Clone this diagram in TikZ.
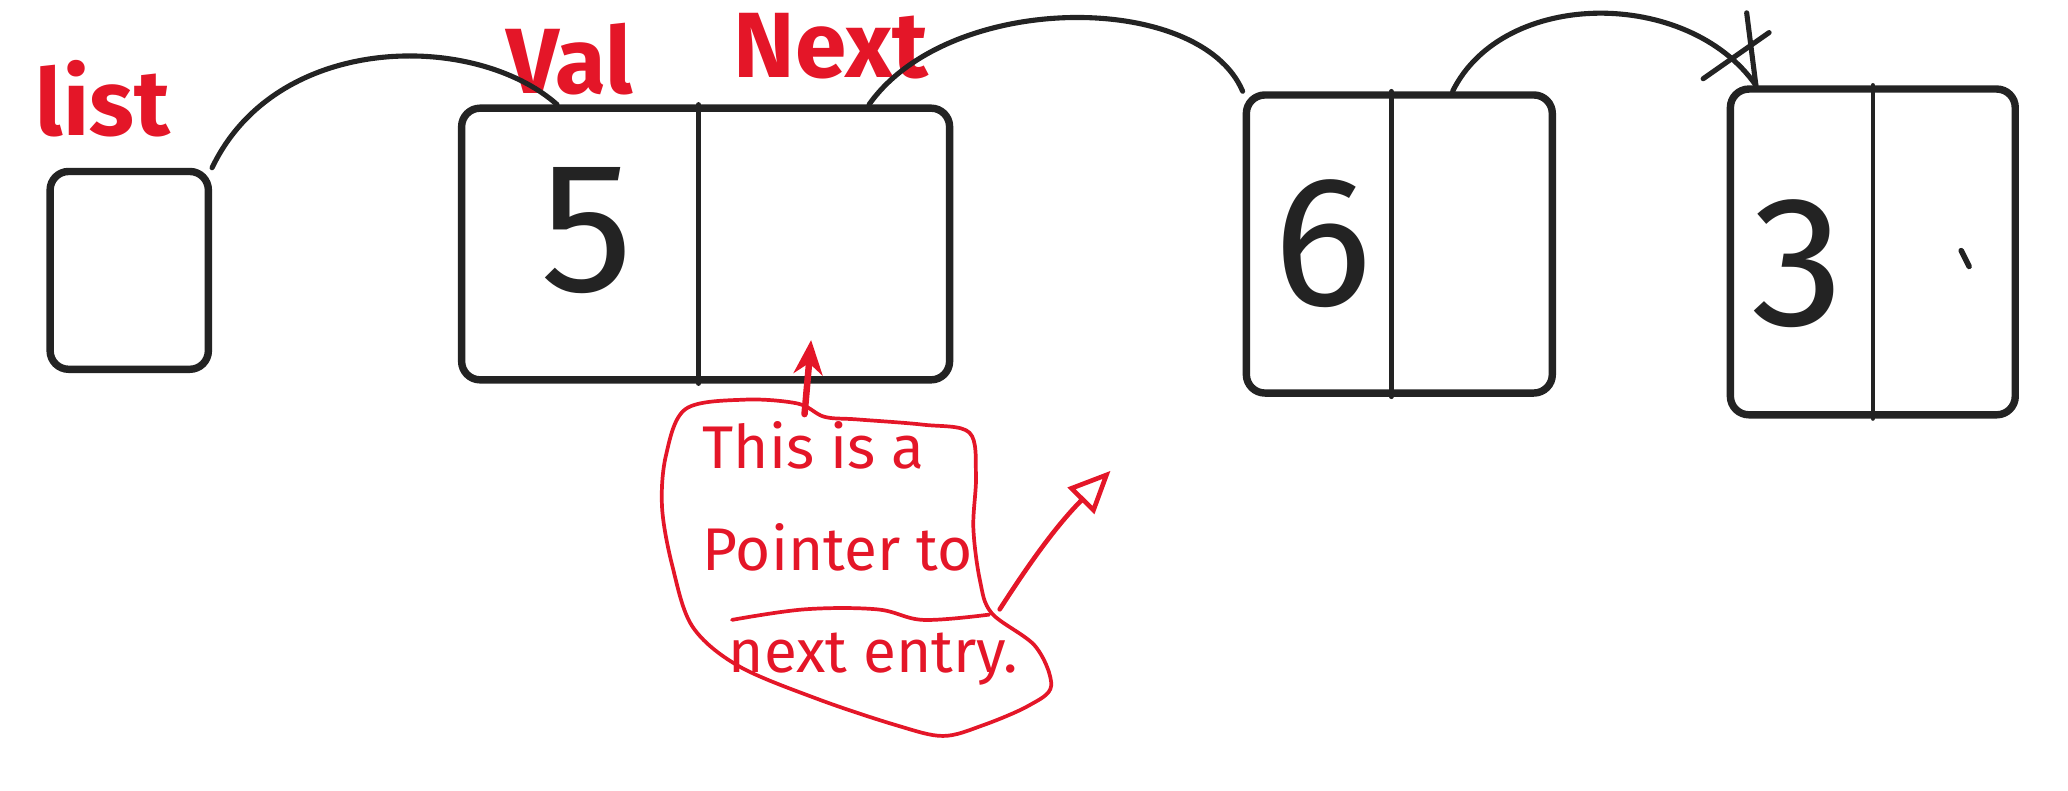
\documentclass[tikz,border=0pt]{standalone}
\usepackage{fontspec}
\setmainfont{Fira Sans}
\usetikzlibrary{calc,arrows.meta}
\definecolor{inkblack}{RGB}{35,35,35}
\definecolor{inkred}{RGB}{228,22,40}
\tikzset{
  ink/.style={
    line width=1.6pt,
    line cap=round,
    line join=round,
    draw=inkblack
  },
  box-outline/.style={ink, rounded corners=4pt, inner sep=0pt},
  box-divider/.style={ink, line width=1pt},
  link/.style={ink, line width=1.1pt},
  digit/.style={text=inkblack, font=\fontsize{40}{40}\selectfont, inner sep=0pt},
  label-red/.style={text=inkred, font=\bfseries\fontsize{20}{20}\selectfont, inner sep=0pt},
  note-text/.style={text=inkred, font=\fontsize{13}{22}\selectfont, align=left, inner sep=0pt},
  note-line/.style={draw=inkred, line width=0.8pt, line cap=round, line join=round},
  note-arrow/.style={note-line, line width=1.4pt, -{Stealth[length=2.6mm,width=2.2mm]}},
  hint-arrow/.style={note-line, line width=1pt, -{Triangle[open,length=3.2mm,width=2.8mm]}}
}

\begin{document}
\begin{tikzpicture}
  \useasboundingbox (0,0) rectangle (15.68,5.99);
  % Head pointer
  \node[label-red] (list-label) at (0.78,5.24) {list};
  \node[box-outline, minimum width=1.2cm, minimum height=1.5cm] (list) at (0.98,3.94) {};
  % Node 1
  \node[box-outline, minimum width=3.7cm, minimum height=2.06cm] (n1) at (5.35,4.14) {};
  \draw[box-divider] ($(n1.north west)!0.486!(n1.north east)$) -- ($(n1.south west)!0.486!(n1.south east)$);
  \node[digit] (val1) at (4.45,4.24) {5};
  \node[label-red] (val-label) at (4.32,5.54) {Val};
  \node[label-red] (next-label) at (6.30,5.64) {Next};
  % Node 2
  \node[box-outline, minimum width=2.32cm, minimum height=2.26cm] (n2) at (10.61,4.14) {};
  \draw[box-divider] ($(n2.north west)!0.474!(n2.north east)$) -- ($(n2.south west)!0.474!(n2.south east)$);
  \node[digit] (val2) at (10.03,4.14) {6};
  % Node 3
  \node[box-outline, minimum width=2.16cm, minimum height=2.47cm] (n3) at (14.20,4.08) {};
  \draw[box-divider] ($(n3.north west)!0.5!(n3.north east)$) -- ($(n3.south west)!0.5!(n3.south east)$);
  \node[digit] (val3) at (13.63,3.99) {3};
  \draw[link, line width=1.2pt] (14.87,4.09) -- (14.93,3.97);
  % Links
  \draw[link] (list.north east) .. controls (2.1,5.75) and (3.6,5.75) .. ($(n1.north west)!0.2!(n1.north east)$);
  \draw[link] ($(n1.north west)!0.83!(n1.north east)$) .. controls (7.2,6.06) and (9.1,6.06) .. (n2.north west);
  \coordinate (tip3) at ($(n3.north west)!0.1!(n3.north east)$);
  \draw[link] ($(n2.north west)!0.67!(n2.north east)$) .. controls (11.4,6.08) and (12.8,6.08) .. (tip3);
  \draw[link] (tip3) -- ++(-0.07,0.55);
  \draw[link] ($(tip3)+(-0.4,0.05)$) -- ++(0.5,0.35);
  % Note cloud
  \draw[note-line] plot[smooth cycle, tension=0.55] coordinates {
    (5.20,2.89) (5.65,2.96) (6.05,2.93) (6.25,2.83) (6.50,2.81) (7.00,2.77)
    (7.35,2.71) (7.40,2.39) (7.38,1.99) (7.43,1.59) (7.52,1.34) (7.85,1.09)
    (7.97,0.79) (7.80,0.64) (7.45,0.49) (7.15,0.41) (6.80,0.49) (6.20,0.69)
    (5.60,0.94) (5.25,1.24) (5.10,1.69) (5.02,2.14) (5.05,2.54)};
  \draw[note-line] plot[smooth, tension=0.6] coordinates {(5.55,1.29) (6.10,1.37) (6.65,1.37) (7.00,1.29) (7.50,1.33)};
  \node[note-text, anchor=north west] (note) at (5.32,2.80) {This is a\\Pointer to\\\hspace*{0.2cm}next entry.};
  \coordinate (note-top) at (6.10,2.85);
  \draw[note-arrow] (note-top) -- ($(n1.south)+(0.8,0.33)$);
  \coordinate (note-side) at (7.58,1.37);
  \coordinate (note-aim) at (8.42,2.42);
  \draw[hint-arrow] (note-side) to[bend left=6] (note-aim);
\end{tikzpicture}
\end{document}
